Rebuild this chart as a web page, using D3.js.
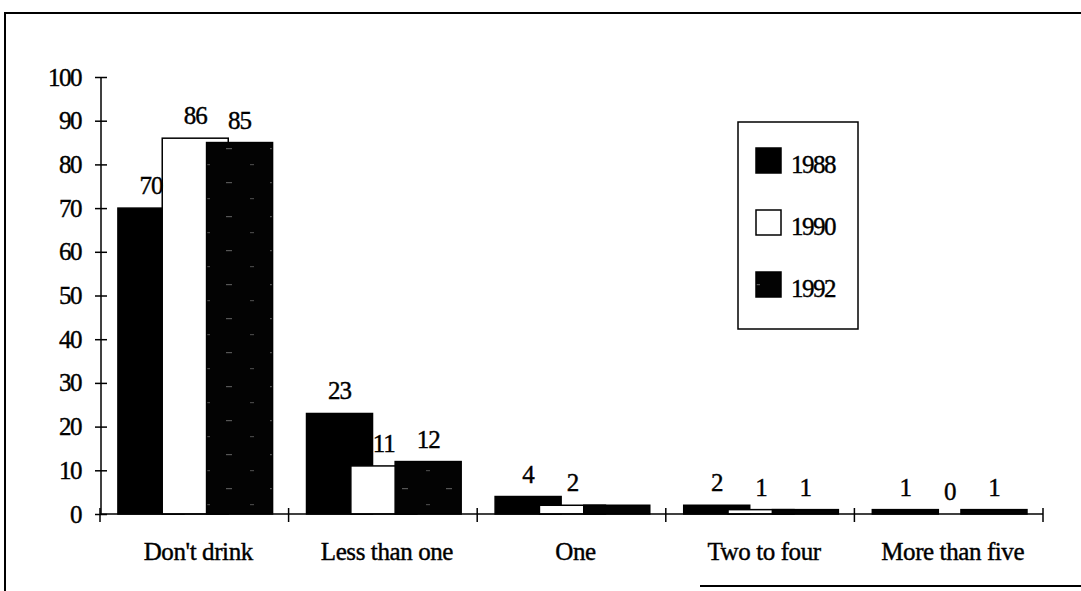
<!DOCTYPE html>
<html>
<head>
<meta charset="utf-8">
<script src="https://cdn.jsdelivr.net/npm/d3@7"></script>
<style>
  body { margin: 0; background: #fff; }
  text { font-family: "Liberation Serif", "DejaVu Serif", serif; fill: #000; stroke: #000; stroke-width: 0.4px; }
</style>
</head>
<body>
<script>
// data
const categories = ["Don't drink", "Less than one", "One", "Two to four", "More than five"];
const years = ["1988", "1990", "1992"];
const values1988 = [70, 23, 4, 2, 1];
const values1990 = [86, 11, 2, 1, 0];
const values1992 = [85, 12, 2, 1, 1];
const labels1988 = ["70", "23", "4", "2", "1"];
const labels1990 = ["86", "11", "2", "1", "0"];
const labels1992 = ["85", "12", "", "1", "1"];
const yTicks = [0, 10, 20, 30, 40, 50, 60, 70, 80, 90, 100];

const series = [
  { year: years[0], values: values1988, labels: labels1988, fill: '#000' },
  { year: years[1], values: values1990, labels: labels1990, fill: '#fff' },
  { year: years[2], values: values1992, labels: labels1992, fill: 'url(#hatch)' }
];

const fontSize = '25px';

let svg = d3.select('body').append('svg').attr('width', 1081).attr('height', 591);

// dark speckled pattern for 1992
let pat = svg.append('defs').append('pattern')
  .attr('id', 'hatch').attr('patternUnits', 'userSpaceOnUse')
  .attr('width', 44).attr('height', 34);
pat.append('rect').attr('width', 44).attr('height', 34).attr('fill', '#030303');
pat.append('rect').attr('x', 6).attr('y', 12).attr('width', 6).attr('height', 1.2).attr('fill', '#555');
pat.append('rect').attr('x', 30).attr('y', 28).attr('width', 4).attr('height', 1.2).attr('fill', '#444');

// outer frame (scanned page border)
svg.append('path')
  .attr('d', 'M5,591 L5,13 L1081,13')
  .style('stroke', '#000').style('stroke-width', 2).style('fill', 'none');
svg.append('line')
  .attr('x1', 700).attr('x2', 1081).attr('y1', 586).attr('y2', 586)
  .style('stroke', '#000').style('stroke-width', 2);

let x = d3.scaleBand().domain(categories).range([100, 1043]);
let y = d3.scaleLinear().domain([0, 100]).range([514, 77]);
let bw = x.bandwidth();
let barW = bw * 0.35, step = bw * 0.235, off = bw * 0.095;

// bars
series.forEach(function (s, i) {
  svg.append('g').selectAll('rect')
    .data(categories)
    .join('rect')
    .attr('x', function (d) { return x(d) + off + i * step; })
    .attr('y', function (d, j) { return y(s.values[j]); })
    .attr('width', barW)
    .attr('height', function (d, j) { return y(0) - y(s.values[j]); })
    .style('fill', s.fill)
    .style('stroke', '#000')
    .style('stroke-width', 1.5);
});

// value labels
series.forEach(function (s, i) {
  svg.append('g').selectAll('text')
    .data(categories)
    .join('text')
    .attr('x', function (d) { return x(d) + off + i * step + barW / 2; })
    .attr('y', function (d, j) { return y(s.values[j]) - 14; })
    .attr('text-anchor', 'middle')
    .style('font-size', fontSize)
    .style('letter-spacing', '-1px')
    .text(function (d, j) { return s.labels[j]; });
});

// y axis
let yAxis = svg.append('g').attr('transform', 'translate(101,0)')
  .call(d3.axisLeft(y).tickValues(yTicks).tickSize(6).tickPadding(14));
yAxis.select('.domain').attr('d', 'M0,' + y(100) + 'V' + y(0)).style('stroke-width', 1.5);
yAxis.selectAll('.tick line').attr('x1', 6).attr('x2', -6).style('stroke-width', 1.5);
yAxis.selectAll('.tick text').style('font-size', fontSize).style('letter-spacing', '-1.5px')
  .attr('font-family', null).attr('fill', null);

// x axis with boundary ticks
let xAxis = svg.append('g').attr('transform', 'translate(0,' + y(0) + ')');
xAxis.append('line').attr('x1', 100).attr('x2', 1043)
  .style('stroke', '#000').style('stroke-width', 1.5);
xAxis.selectAll('line.bt')
  .data(categories.concat(['end']))
  .join('line').attr('class', 'bt')
  .attr('x1', function (d, i) { return i < categories.length ? x(d) : x(categories[i - 1]) + bw; })
  .attr('x2', function (d, i) { return i < categories.length ? x(d) : x(categories[i - 1]) + bw; })
  .attr('y1', -6).attr('y2', 8)
  .style('stroke', '#000').style('stroke-width', 1.5);
xAxis.selectAll('text')
  .data(categories)
  .join('text')
  .attr('x', function (d) { return x(d) + bw / 2 + 4; })
  .attr('y', 46)
  .attr('text-anchor', 'middle')
  .style('font-size', fontSize)
  .style('letter-spacing', '-0.4px')
  .text(function (d) { return d; });

// legend
let lg = svg.append('g');
lg.append('rect').attr('x', 738).attr('y', 122).attr('width', 120).attr('height', 207)
  .style('fill', '#fff').style('stroke', '#000').style('stroke-width', 1.5);
series.forEach(function (s, i) {
  lg.append('rect').attr('x', 756).attr('y', 148 + i * 62).attr('width', 25).attr('height', 25)
    .style('fill', s.fill).style('stroke', '#000').style('stroke-width', 1.5);
  lg.append('text').attr('x', 791).attr('y', 173 + i * 62)
    .style('font-size', fontSize).style('letter-spacing', '-1.5px')
    .text(s.year);
});
</script>
</body>
</html>
